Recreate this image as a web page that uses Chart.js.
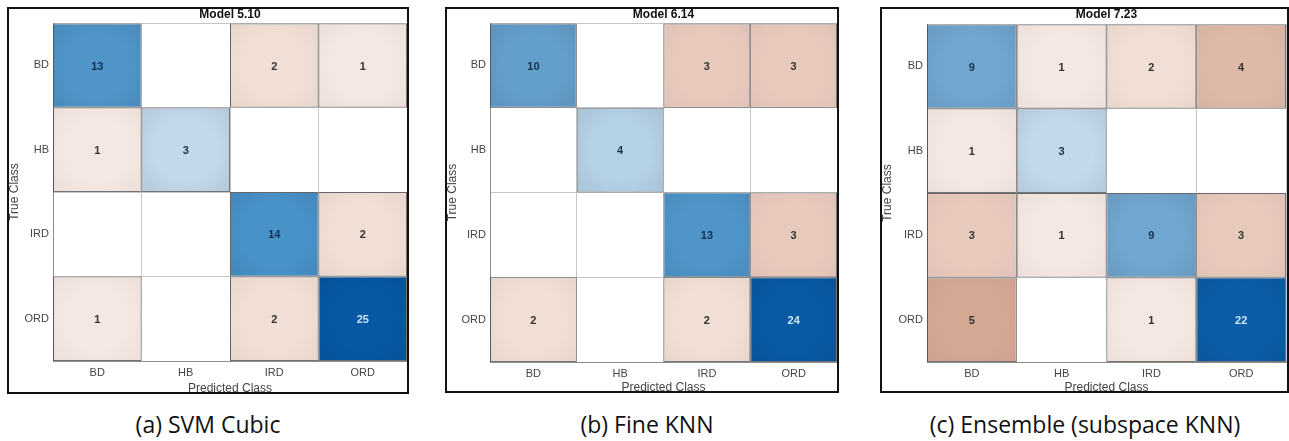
<!DOCTYPE html>
<html>
<head>
<meta charset="utf-8">
<script src="https://cdn.jsdelivr.net/npm/chart.js@4.4.1/dist/chart.umd.min.js"></script>
<style>
  body { margin: 0; background: #fff; width: 1289px; height: 441px; overflow: hidden; position: relative; }
  .panel { position: absolute; border: 2px solid #111; box-sizing: border-box; background: #fff; }
  .panel .holder { position: absolute; left: 0; top: 0; right: 0; bottom: 0; }
  .caption { position: absolute; top: 409px; line-height: 30px; font-family: "Open Sans", sans-serif; font-size: 23px; color: #111; transform: translateX(-50%); white-space: nowrap; }
</style>
</head>
<body>
<script>
const classes = ["BD", "HB", "IRD", "ORD"];

// rows = true class, columns = predicted class
const svmCubic = [
  [13, 0, 2, 1],
  [1, 3, 0, 0],
  [0, 0, 14, 2],
  [1, 0, 2, 25],
];
const fineKnn = [
  [10, 0, 3, 3],
  [0, 4, 0, 0],
  [0, 0, 13, 3],
  [2, 0, 2, 24],
];
const ensembleKnn = [
  [9, 1, 2, 4],
  [1, 3, 0, 0],
  [3, 1, 9, 3],
  [5, 0, 1, 22],
];
const modelTitles = ["Model 5.10", "Model 6.14", "Model 7.23"];
const captions = ["(a) SVM Cubic", "(b) Fine KNN", "(c) Ensemble (subspace KNN)"];
const matrices = [svmCubic, fineKnn, ensembleKnn];

// box = outer frame [left, top, width, height], yw/xh = axis sizes, top = space for title
const layouts = [
  { box: [7, 7, 402, 387], yw: 44, xh: 31, top: 14, right: 0, capX: 208 },
  { box: [445, 7, 394, 386], yw: 43, xh: 29, top: 14, right: 0, capX: 647 },
  { box: [880, 7, 409, 386], yw: 45, xh: 29, top: 15, right: 1, capX: 1085 },
];

const FONT = '"Liberation Sans", Arial, sans-serif';

// colour ramps (value -> rgb)
const blueRamp = [[0, [236, 243, 249]], [3, [194, 217, 235]], [10, [100, 158, 203]], [14, [72, 146, 202]], [20, [14, 96, 170]], [25, [6, 88, 164]]];
const redRamp = [[0, [249, 240, 236]], [1, [245, 232, 226]], [2, [241, 222, 212]], [3, [232, 202, 189]], [4, [222, 185, 168]], [5, [213, 168, 148]]];

function ramp(stops, v) {
  if (v <= stops[0][0]) return stops[0][1];
  for (let i = 1; i < stops.length; i++) {
    if (v <= stops[i][0]) {
      const [a, ca] = stops[i - 1];
      const [b, cb] = stops[i];
      const t = (v - a) / (b - a);
      return ca.map((x, k) => Math.round(x + (cb[k] - x) * t));
    }
  }
  return stops[stops.length - 1][1];
}

function cellColor(ctx) {
  const v = ctx.raw.v;
  if (!v) return "rgba(0,0,0,0)";
  const c = ctx.datasetIndex === ctx.dataIndex ? ramp(blueRamp, v) : ramp(redRamp, v);
  return "rgb(" + c.join(",") + ")";
}

const cellText = {
  id: "cellText",
  afterDatasetsDraw(chart) {
    const ctx = chart.ctx;
    ctx.save();
    chart.data.datasets.forEach((ds, r) => {
      chart.getDatasetMeta(r).data.forEach((bar, c) => {
        const v = ds.data[c].v;
        if (!v) return;
        const x0 = bar.x - bar.width / 2, x1 = bar.x + bar.width / 2;
        const y0 = Math.min(bar.y, bar.base), y1 = Math.max(bar.y, bar.base);
        const cx = bar.x, cy = (y0 + y1) / 2;
        // soft darker edges like the original rendering
        const g = ctx.createRadialGradient(cx, cy, 0, cx, cy, Math.hypot(x1 - x0, y1 - y0) / 2);
        g.addColorStop(0.5, "rgba(0,0,0,0)");
        g.addColorStop(1, r === c ? "rgba(0,0,0,0.08)" : "rgba(0,0,0,0.04)");
        ctx.fillStyle = g;
        ctx.fillRect(x0 + 1, y0 + 1, x1 - x0 - 2, y1 - y0 - 2);

        ctx.font = "bold 11px " + FONT;
        ctx.textAlign = "center";
        ctx.textBaseline = "middle";
        if (r === c) ctx.fillStyle = v >= 20 ? "#cde4f6" : "#16304c";
        else ctx.fillStyle = "#333";
        ctx.fillText(String(v), cx, cy + 1);
      });
    });
    ctx.restore();
  },
};

matrices.forEach((m, i) => {
  const L = layouts[i];
  const panel = document.createElement("div");
  panel.className = "panel";
  panel.style.left = L.box[0] + "px";
  panel.style.top = L.box[1] + "px";
  panel.style.width = L.box[2] + "px";
  panel.style.height = L.box[3] + "px";
  const holder = document.createElement("div");
  holder.className = "holder";
  const canvas = document.createElement("canvas");
  holder.appendChild(canvas);
  panel.appendChild(holder);
  document.body.appendChild(panel);

  const cap = document.createElement("div");
  cap.className = "caption";
  cap.style.left = L.capX + "px";
  cap.textContent = captions[i];
  document.body.appendChild(cap);

  const datasets = m.map((row, r) => ({
    label: classes[r],
    data: row.map((v, c) => ({ x: classes[c], y: [r, r + 1], v: v })),
    backgroundColor: cellColor,
    borderColor: "rgba(70,70,70,0.75)",
    borderWidth: (ctx) => (ctx.raw.v ? 1 : 0),
    borderSkipped: false,
    inflateAmount: 0,
    grouped: false,
    barPercentage: 1,
    categoryPercentage: 1,
  }));

  new Chart(canvas, {
    type: "bar",
    data: { labels: classes, datasets: datasets },
    options: {
      responsive: true,
      maintainAspectRatio: false,
      animation: false,
      layout: { padding: { top: 0, right: L.right, bottom: 0, left: 0 } },
      plugins: {
        legend: { display: false },
        tooltip: { enabled: false },
        title: {
          display: true,
          text: modelTitles[i],
          fullSize: false,
          color: "#111",
          font: { family: FONT, size: 12, weight: "bold", lineHeight: 1 },
          padding: { top: 0, bottom: L.top - 12 },
        },
      },
      scales: {
        x: {
          type: "category",
          grid: { display: true, offset: true, color: "#c6c6c6", drawTicks: false },
          border: { color: "#8c8c8c" },
          ticks: { padding: 5, color: "#444", font: { family: FONT, size: 11 } },
          title: { display: true, text: "Predicted Class", color: "#444", padding: { top: 0, bottom: -3 }, font: { family: FONT, size: 12, lineHeight: 1 } },
          afterFit: (s) => { s.height = L.xh; },
        },
        y: {
          type: "linear",
          min: 0,
          max: 4,
          reverse: true,
          afterBuildTicks: (s) => {
            s.ticks = [0, 0.5, 1, 1.5, 2, 2.5, 3, 3.5, 4].map((v) => ({ value: v }));
          },
          grid: {
            drawTicks: false,
            color: (ctx) => (Number.isInteger(ctx.tick.value) ? "#c6c6c6" : "rgba(0,0,0,0)"),
          },
          border: { color: "#8c8c8c" },
          ticks: {
            autoSkip: false,
            padding: 4,
            color: "#444",
            font: { family: FONT, size: 11 },
            callback: (v) => (Number.isInteger(v) ? "" : classes[Math.floor(v)]),
          },
          title: { display: true, text: "True Class", color: "#444", padding: 0, font: { family: FONT, size: 12, lineHeight: 1 } },
          afterFit: (s) => { s.width = L.yw; },
        },
      },
    },
    plugins: [cellText],
  });
});
</script>
</body>
</html>
